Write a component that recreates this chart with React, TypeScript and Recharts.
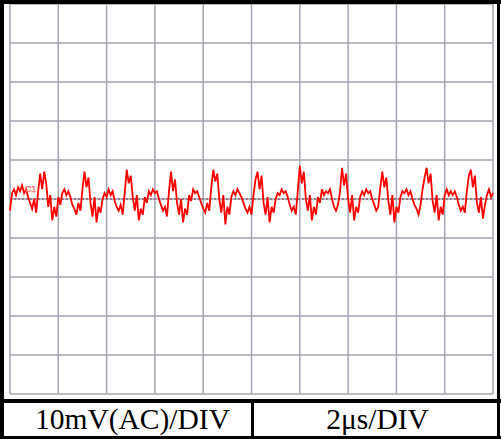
import { LineChart, Line, XAxis, YAxis, CartesianGrid, ReferenceLine, ReferenceDot } from 'recharts';

// ripple trace, mV, one sample every 1/12 µs
const rippleMv = [
  -3, 1.5, 2.5, 1, 3, 2, 3.5, 1.5, 2.5, 0.5,
  -1, -2.5, 0, -3.5, 2, 6.5, 2.5, 7, 4, -2,
  1, -5.5, -2, -4.5, 0.5, -1.5, 1.5, 2.5, 1, 2,
  0.5, -1.5, -2.5, -4, -1, -3, 2.5, 7, 3, 5.5,
  -1, -4.5, 0.5, -6, -2, -3.5, 0, 1.5, 0.5, 2.5,
  1, 2, -0.5, -2, -3, -1.5, -4, 1.5, 7.5, 4,
  6, 0.5, -3, 1, -5.5, -2.5, -4, 0.5, -1, 2,
  1, 2.5, 1.5, 2, 0, -1.5, -3, -2, -4.5, 2,
  7, 2, 5, -1, -4, 0, -6, -2.5, -4, 1,
  -0.5, 2.5, 1.5, 2, 0.5, -1, -2.5, -3.5, -1, -3,
  3, 7.5, 4.5, 6.5, 0, -3.5, 1, -6.5, -2, -4,
  0.5, 2, 1, 2.5, 1.5, 0.5, -1, -2.5, -3.5, -2,
  -4, 1, 5, 7, 2.5, 6, -1, -4, 0.5, -6,
  -2, -3.5, 0, 1.5, 1, 2.5, 1.5, 2, 0.5, -1.5,
  -3, -2, -4, 2, 8.5, 4, 7, 0, -3, 1,
  -5.5, -2, -4, 0.5, -1, 2.5, 1, 2, 1.5, 2.5,
  0, -2, -3, -1.5, 2, 8, 3.5, 6.5, 0, -3.5,
  1, -5.5, -2, -3.5, 0.5, 2, 1, 2.5, 1.5, 2,
  0, -1.5, -3, -2, 3, 7, 3, 5.5, -0.5, -4,
  1, -6, -2, -3.5, 0.5, 2, 1.5, 2.5, 1, 2,
  0, -1.5, -2.5, -4, -1.5, 2.5, 5.5, 8, 4, 6.5,
  -0.5, -3.5, 1, -5.5, -2, -4, 1, 2.5, 1, 2,
  1, 2, 0.5, -1.5, -3, -2, -3.5, 2, 6, 7.5,
  3, 6, -1, -3.5, 0.5, -5, -1.5, 1, 2.5, 0.5, 1.5,
];

const timeTicks = [2, 4, 6, 8, 10, 12, 14, 16, 18];
const voltTicks = [-40, -30, -20, -10, 0, 10, 20, 30, 40];
const voltLabel = '10mV(AC)/DIV';
const timeLabel = '2μs/DIV';

const data = rippleMv.map((v, i) => ({ t: i / 12, v }));

const black = '#000';
const bar = (s: React.CSSProperties): React.CSSProperties => ({ position: 'absolute', background: black, ...s });
const cell: React.CSSProperties = {
  position: 'absolute', top: 403, height: 33, display: 'flex', alignItems: 'center', justifyContent: 'center',
  fontFamily: '"Liberation Serif", serif', fontSize: 29.5, boxSizing: 'border-box', whiteSpace: 'nowrap',
};

export default function App() {
  return (
    <div style={{ position: 'absolute', left: 0, top: 0, width: 501, height: 439, background: '#fff', overflow: 'hidden' }}>
      <LineChart width={501} height={439} data={data} margin={{ top: 4, right: 8, bottom: 45, left: 10 }}>
        <CartesianGrid stroke="#a4a4b2" strokeWidth={1.5} />
        <XAxis dataKey="t" type="number" domain={[0, 20]} ticks={timeTicks} hide />
        <YAxis type="number" domain={[-50, 50]} ticks={voltTicks} hide />
        <ReferenceLine y={0} stroke="#7a3a4a" strokeDasharray="2 2" strokeWidth={1} />
        <Line type="linear" dataKey="v" stroke="#ff0000" strokeWidth={1.8} dot={false} isAnimationActive={false} />
        <ReferenceDot x={0.85} y={2.5} r={0} fill="none" stroke="none"
          label={{ value: 'C1', fill: 'none', stroke: '#ff7070', strokeWidth: 0.6, fontSize: 9, fontFamily: 'Liberation Sans' }} />
      </LineChart>
      {/* frame */}
      <div style={bar({ left: 0, top: 0, width: 4, height: 439 })} />
      <div style={bar({ left: 0, top: 0, width: 501, height: 4 })} />
      <div style={bar({ left: 497, top: 0, width: 3, height: 439 })} />
      <div style={bar({ left: 0, top: 399, width: 501, height: 4 })} />
      <div style={bar({ left: 0, top: 436, width: 501, height: 3 })} />
      <div style={bar({ left: 251, top: 400, width: 3, height: 37 })} />
      <div style={{ ...cell, left: 4, width: 247, paddingLeft: 10 }}>{voltLabel}</div>
      <div style={{ ...cell, left: 254, width: 243, paddingLeft: 4 }}>{timeLabel}</div>
    </div>
  );
}
